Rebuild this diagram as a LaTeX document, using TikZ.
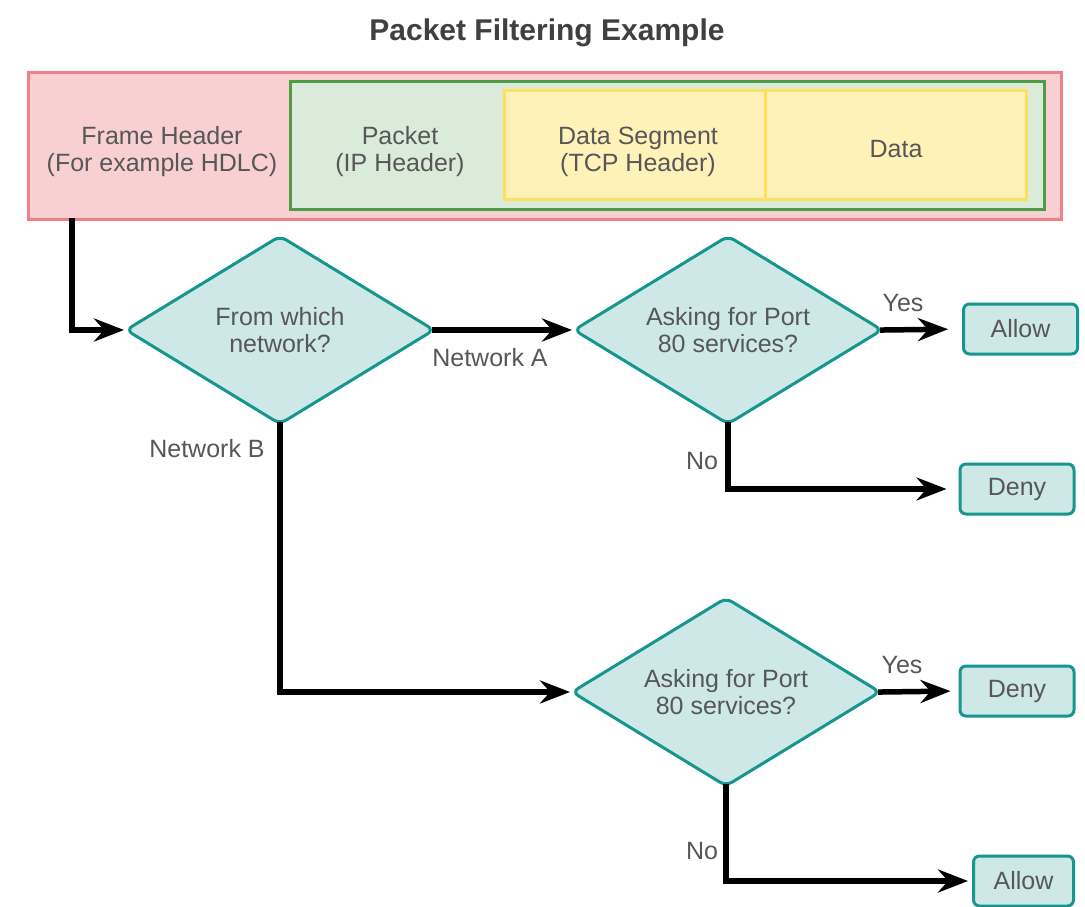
\documentclass[tikz,border=0pt]{standalone}
\usepackage{fontspec}
\setmainfont{Liberation Sans}
\usetikzlibrary{shapes.geometric,arrows.meta}
\definecolor{txt}{HTML}{575757}
\definecolor{ttl}{HTML}{404040}
\definecolor{tealline}{HTML}{17958F}
\definecolor{tealfill}{HTML}{CDE8E6}
\definecolor{redline}{HTML}{EE8086}
\definecolor{redfill}{HTML}{F8D0D2}
\definecolor{grnline}{HTML}{4C9D45}
\definecolor{grnfill}{HTML}{DAEBD9}
\definecolor{yelline}{HTML}{FFE05A}
\definecolor{yelfill}{HTML}{FFF2B8}
\begin{document}
\begin{tikzpicture}[x=1pt,y=-1pt,
  lbl/.style={text=txt,font=\fontsize{25}{27}\selectfont,align=center,inner sep=0pt},
  dec/.style={diamond,draw=tealline,fill=tealfill,line width=3pt,rounded corners=7pt,
    minimum width=309pt,minimum height=189pt,shape aspect=1.64,inner sep=0pt,
    text=txt,font=\fontsize{25}{27}\selectfont,align=center},
  res/.style={rectangle,draw=tealline,fill=tealfill,line width=3pt,rounded corners=6pt,
    minimum width=114pt,minimum height=50pt,inner sep=0pt,
    text=txt,font=\fontsize{25}{27}\selectfont},
  layer/.style={rectangle,line width=3pt,inner sep=0pt},
  flow/.style={line width=5.5pt,-{Stealth[length=30pt,width=23pt,inset=10pt]}},
  fromdec/.style={shorten <=-4pt}
]
\useasboundingbox (0,0) rectangle (1085,907);
\fill[white] (0,0) rectangle (1085,907);

\node[text=ttl,font=\fontsize{30}{34}\selectfont\bfseries] (title) at (547,33) {Packet Filtering Example};

% frame layers
\node[layer,draw=redline,fill=redfill,minimum width=1033pt,minimum height=147pt] (frame) at (545,146) {};
\node[layer,draw=grnline,fill=grnfill,minimum width=754pt,minimum height=128pt] (packet) at (667.5,145.5) {};
\node[layer,draw=yelline,fill=yelfill,minimum width=522pt,minimum height=109pt] (segment) at (765.5,145) {};
\draw[yelline,line width=3pt] (segment.north -| 765,0) -- (segment.south -| 765,0);

\node[lbl] (fh) at (162,152) {Frame Header\\(For example HDLC)};
\node[lbl] (ph) at (400,152) {Packet\\(IP Header)};
\node[lbl] (sh) at (638,152) {Data Segment\\(TCP Header)};
\node[lbl] (dh) at (896,149) {Data};

% decisions
\node[dec] (d1) at (280,330) {From which\\network?};
\node[dec] (d2) at (728,330) {Asking for Port\\80 services?};
\node[dec] (d3) at (726,692) {Asking for Port\\80 services?};

% results
\node[res] (allow1) at (1020.5,329) {Allow};
\node[res] (deny1) at (1017,489) {Deny};
\node[res] (deny2) at (1017,691) {Deny};
\node[res,minimum width=100pt] (allow2) at (1023.5,881) {Allow};

% connectors
\coordinate (s) at (72,218);
\draw[flow] (s) |- (d1.west);
\draw[flow,fromdec] (d1.east) -- (d2.west);
\draw[flow,fromdec] (d1.south) |- (d3.west);
\draw[flow,fromdec,shorten >=14pt] (d2.east) -- (allow1.west);
\draw[flow,fromdec,shorten >=12pt] (d2.south) |- (deny1.west);
\draw[flow,fromdec,shorten >=8pt] (d3.east) -- (deny2.west);
\draw[flow,fromdec,shorten >=4pt] (d3.south) |- (allow2.west);

% labels
\node[lbl] (la) at (490,358) {Network A};
\node[lbl] (lb) at (207,449) {Network B};
\node[lbl] (y1) at (903,303) {Yes};
\node[lbl] (n1) at (702,461) {No};
\node[lbl] (y2) at (902,665) {Yes};
\node[lbl] (n2) at (702,851) {No};
\end{tikzpicture}
\end{document}
